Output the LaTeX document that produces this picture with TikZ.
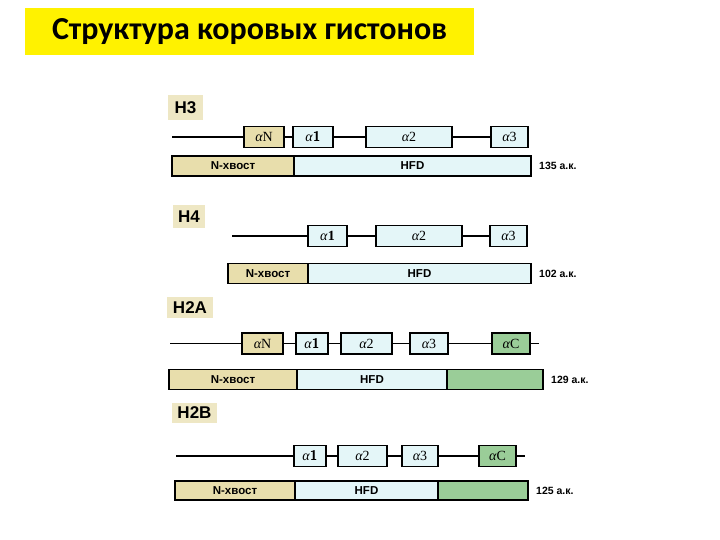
\documentclass[tikz,border=0pt]{standalone}
\usepackage{fontspec}
\setmainfont{Liberation Sans}
\newfontfamily\titlefont{Carlito}
\newfontfamily\grfont{Liberation Serif}
\usepackage{tikz}
\usetikzlibrary{positioning}
\usepackage{xcolor}
\definecolor{tailc}{HTML}{E8DEAC}
\definecolor{hfdc}{HTML}{E4F6F8}
\definecolor{ctc}{HTML}{9ACD98}
\definecolor{labc}{HTML}{EEE7C4}
\newcommand{\al}[1]{{\grfont\itshape α}#1}

\begin{document}
\begin{tikzpicture}[x=1pt,y=-1pt,
    hx/.style={draw=black,line width=1.3pt,fill=hfdc,minimum height=21pt,inner sep=0pt,font=\grfont\fontsize{14}{14}\selectfont},
    tl/.style={hx,fill=tailc},
    ct/.style={hx,fill=ctc},
    seg/.style={draw=black,line width=1.3pt,minimum height=20pt,inner sep=0pt,font=\bfseries\fontsize{11.5}{12}\selectfont},
    nm/.style={fill=labc,inner sep=0pt,font=\bfseries\fontsize{17}{17}\selectfont},
    aa/.style={anchor=west,font=\bfseries\fontsize{10.5}{11}\selectfont},
    ln/.style={line width=1.3pt,black}
  ]
    \useasboundingbox (0,0) rectangle (720,540);
    \node[fill=yellow,minimum width=449pt,minimum height=47pt,inner sep=0pt,font=\titlefont\bfseries\fontsize{32}{34}\selectfont] (title) at (249.5,31.5) {Структура коровых гистонов};

    % H3
    \node[nm,minimum width=35pt,minimum height=25pt] (n3) at (185.5,107.5) {H3};
    \coordinate (h3s) at (172,137);
    \node[tl,minimum width=40pt] (h3aN) at (264,137) {\al{N}};
    \node[hx,minimum width=40pt] (h3a1) at (313,137) {\al{\textsf{\textbf{1}}}};
    \node[hx,minimum width=86pt] (h3a2) at (409,137) {\al{2}};
    \node[hx,minimum width=37pt] (h3a3) at (509.5,137) {\al{3}};
    \draw[ln] (h3s) -- (h3aN); \draw[ln] (h3aN) -- (h3a1);
    \draw[ln] (h3a1) -- (h3a2); \draw[ln] (h3a2) -- (h3a3);
    \node[seg,fill=tailc,minimum width=122pt] (h3t) at (233,166) {N-хвост};
    \node[seg,fill=hfdc,minimum width=237pt] (h3h) at (412.5,166) {HFD};
    \node[aa] (h3l) at ([xshift=4pt]h3h.east) {135 а.к.};

    % H4
    \node[nm,minimum width=32pt,minimum height=23pt] (n4) at (189,216.5) {H4};
    \coordinate (h4s) at (232,236);
    \node[hx,minimum width=39pt] (h4a1) at (327.5,236) {\al{\textbf{1}}};
    \node[hx,minimum width=86pt] (h4a2) at (419,236) {\al{2}};
    \node[hx,minimum width=37pt] (h4a3) at (508.5,236) {\al{3}};
    \draw[ln] (h4s) -- (h4a1); \draw[ln] (h4a1) -- (h4a2); \draw[ln] (h4a2) -- (h4a3);
    \node[seg,fill=tailc,minimum width=80pt] (h4t) at (268,273.5) {N-хвост};
    \node[seg,fill=hfdc,minimum width=223pt] (h4h) at (419.5,273.5) {HFD};
    \node[aa] (h4l) at ([xshift=4pt]h4h.east) {102 а.к.};

    % H2A
    \node[nm,minimum width=46pt,minimum height=21pt] (n2a) at (190,307.5) {H2A};
    \coordinate (h2as) at (170,343.5);
    \coordinate (h2ae) at (539,343.5);
    \node[tl,minimum width=41pt] (h2aaN) at (262.5,343.5) {\al{N}};
    \node[hx,minimum width=32pt] (h2aa1) at (312,343.5) {\al{\textsf{\textbf{1}}}};
    \node[hx,minimum width=51pt] (h2aa2) at (366.5,343.5) {\al{2}};
    \node[hx,minimum width=38pt] (h2aa3) at (429,343.5) {\al{3}};
    \node[ct,minimum width=38pt] (h2aaC) at (511,343.5) {\al{C}};
    \draw[ln] (h2as) -- (h2aaN); \draw[ln] (h2aaN) -- (h2aa1);
    \draw[ln] (h2aa1) -- (h2aa2); \draw[ln] (h2aa2) -- (h2aa3);
    \draw[ln] (h2aa3) -- (h2aaC); \draw[ln] (h2aaC) -- (h2ae);
    \node[seg,fill=tailc,minimum width=128pt] (h2at) at (233,379.5) {N-хвост};
    \node[seg,fill=hfdc,minimum width=150pt] (h2ah) at (372,379.5) {HFD};
    \node[seg,fill=ctc,minimum width=96pt] (h2ac) at (495,379.5) {};
    \node[aa] (h2al) at ([xshift=4pt]h2ac.east) {129 а.к.};

    % H2B
    \node[nm,minimum width=45pt,minimum height=20pt] (n2b) at (194.5,413) {H2B};
    \coordinate (h2bs) at (176,456);
    \coordinate (h2be) at (525,456);
    \node[hx,minimum width=32pt] (h2ba1) at (310,456) {\al{\textsf{\textbf{1}}}};
    \node[hx,minimum width=49pt] (h2ba2) at (362.5,456) {\al{2}};
    \node[hx,minimum width=36pt] (h2ba3) at (420,456) {\al{3}};
    \node[ct,minimum width=37pt] (h2baC) at (497.5,456) {\al{C}};
    \draw[ln] (h2bs) -- (h2ba1); \draw[ln] (h2ba1) -- (h2ba2);
    \draw[ln] (h2ba2) -- (h2ba3); \draw[ln] (h2ba3) -- (h2baC);
    \draw[ln] (h2baC) -- (h2be);
    \node[seg,fill=tailc,minimum width=120pt,minimum height=19pt] (h2bt) at (235,490.5) {N-хвост};
    \node[seg,fill=hfdc,minimum width=143pt,minimum height=19pt] (h2bh) at (366.5,490.5) {HFD};
    \node[seg,fill=ctc,minimum width=90pt,minimum height=19pt] (h2bc) at (483,490.5) {};
    \node[aa] (h2bl) at ([xshift=4pt]h2bc.east) {125 а.к.};
\end{tikzpicture}
\end{document}
